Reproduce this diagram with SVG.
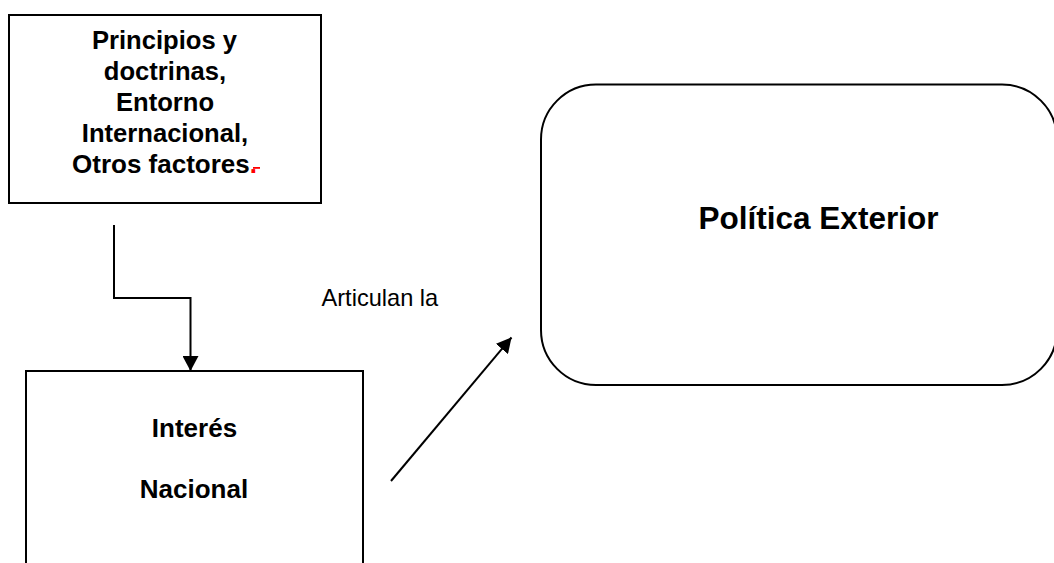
<svg xmlns="http://www.w3.org/2000/svg" width="1054" height="563" viewBox="0 0 1054 563">
  <style>
    .box { fill: #ffffff; stroke: #000000; stroke-width: 2; }
    .conn { fill: none; stroke: #000000; stroke-width: 2; }
    .bold { font-family: "Liberation Sans", Arial, sans-serif; font-weight: bold; fill: #000000; text-anchor: middle; }
    .start { text-anchor: start; }
    .reg { font-family: "Liberation Sans", Arial, sans-serif; fill: #000000; }
  </style>
  <defs>
    <marker id="arrow" markerUnits="userSpaceOnUse" markerWidth="16" markerHeight="16" refX="15" refY="8" orient="auto" viewBox="0 0 16 16">
      <path d="M0,0 L15,8 L0,16 z" fill="#000000"/>
    </marker>
  </defs>
  <rect width="1054" height="563" fill="#ffffff"/>

  <g id="node-principios">
    <rect class="box" x="9" y="15" width="312" height="188"/>
    <text class="bold" font-size="25.6" x="164.5" y="48.5">Principios y</text>
    <text class="bold" font-size="25.6" x="165" y="80">doctrinas,</text>
    <text class="bold" font-size="25.6" x="165" y="111">Entorno</text>
    <text class="bold" font-size="25.6" x="165" y="142">Internacional,</text>
    <text class="bold start" font-size="26" x="72" y="173">Otros factores<tspan fill="#ff0000">.</tspan></text>
    <rect x="253" y="167" width="7" height="1.8" fill="#ff0000"/>
  </g>

  <g id="node-interes">
    <rect class="box" x="26" y="371" width="337" height="200"/>
    <text class="bold" font-size="26" x="194.5" y="437">Interés</text>
    <text class="bold" font-size="26" x="194" y="498">Nacional</text>
  </g>

  <g id="node-politica">
    <rect class="box" x="541" y="84.5" width="516" height="300.5" rx="55" ry="55"/>
    <text class="bold" font-size="31.5" x="818.5" y="228.5">Política Exterior</text>
  </g>

  <g id="connectors">
    <path class="conn" d="M114,225 L114,298 L190.5,298 L190.5,371" marker-end="url(#arrow)"/>
    <path class="conn" d="M391,481 L511.5,337.5" marker-end="url(#arrow)"/>
    <text class="reg" font-size="23.6" x="321.5" y="305.5">Articulan la</text>
  </g>
</svg>
